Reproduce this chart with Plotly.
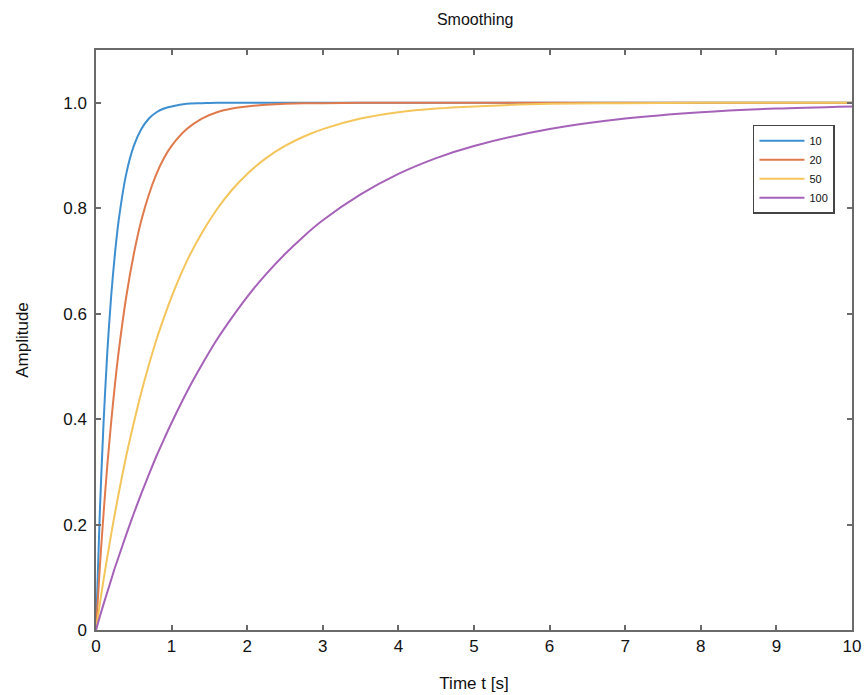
import plotly.graph_objects as go

# Time samples (s) and amplitudes
t = [0, 0.05, 0.1, 0.15, 0.2, 0.25, 0.3, 0.4, 0.5, 0.6, 0.7, 0.8, 0.9, 1.0,
     1.2, 1.4, 1.6, 1.8, 2.0, 2.25, 2.5, 2.75, 3.0, 3.5, 4.0, 4.5, 5.0, 6.0, 7.0,
     8.0, 9.0, 10.0]

y10 = [0, 0.221, 0.393, 0.528, 0.632, 0.713, 0.777, 0.865, 0.918, 0.950, 0.970,
       0.982, 0.989, 0.993, 0.998, 0.999, 1.0, 1.0, 1.0, 1.0, 1.0, 1.0, 1.0, 1.0,
       1.0, 1.0, 1.0, 1.0, 1.0, 1.0, 1.0, 1.0]
y20 = [0, 0.118, 0.221, 0.313, 0.393, 0.465, 0.528, 0.632, 0.713, 0.777, 0.826,
       0.865, 0.895, 0.918, 0.950, 0.970, 0.982, 0.989, 0.993, 0.996, 0.998, 0.999,
       0.999, 1.0, 1.0, 1.0, 1.0, 1.0, 1.0, 1.0, 1.0, 1.0]
y50 = [0, 0.049, 0.095, 0.139, 0.181, 0.221, 0.259, 0.330, 0.393, 0.451, 0.503,
       0.551, 0.593, 0.632, 0.699, 0.753, 0.798, 0.835, 0.865, 0.895, 0.918, 0.936,
       0.950, 0.970, 0.982, 0.989, 0.993, 0.998, 0.999, 1.0, 1.0, 1.0]
y100 = [0, 0.025, 0.049, 0.072, 0.095, 0.118, 0.139, 0.181, 0.221, 0.259, 0.295,
        0.330, 0.362, 0.393, 0.451, 0.503, 0.551, 0.593, 0.632, 0.675, 0.713, 0.747,
        0.777, 0.826, 0.865, 0.895, 0.918, 0.950, 0.970, 0.982, 0.989, 0.993]

series_names = ["10", "20", "50", "100"]
series_values = [y10, y20, y50, y100]
colors = ["#3d8fd1", "#e07a4c", "#f4c55a", "#a562b8"]

x_tickvals = list(range(0, 11))
x_ticktext = [str(v) for v in x_tickvals]
y_tickvals = [0, 0.2, 0.4, 0.6, 0.8, 1.0]
y_ticktext = ["0", "0.2", "0.4", "0.6", "0.8", "1.0"]

FONT = "Liberation Sans, Arial, sans-serif"

fig = go.Figure()
for name, vals, c in zip(series_names, series_values, colors):
    fig.add_trace(go.Scatter(x=t, y=vals, name=name, mode="lines",
                             line=dict(color=c, width=2, shape="spline", smoothing=0.8)))

axis_common = dict(showline=True, linecolor="#6a6a6a", linewidth=1.5, mirror="ticks",
                   ticks="inside", ticklen=5, tickwidth=1.5, tickcolor="#6a6a6a",
                   showgrid=False, zeroline=False, automargin=False,
                   tickfont=dict(family=FONT, size=17, color="#111"))

fig.update_xaxes(range=[0, 10], tickvals=x_tickvals, ticktext=x_ticktext,
                 title=dict(text="Time t [s]", standoff=22,
                            font=dict(family=FONT, size=17, color="#111")),
                 **axis_common)
fig.update_yaxes(range=[0, 1.1], tickvals=y_tickvals, ticktext=y_ticktext,
                 ticklabelstandoff=4,
                 title=dict(text="Amplitude", standoff=30,
                            font=dict(family=FONT, size=17, color="#111")),
                 **axis_common)

fig.update_layout(
    width=864, height=695,
    margin=dict(l=96, r=12, t=50, b=65),
    paper_bgcolor="white", plot_bgcolor="white",
    title=dict(text="Smoothing", x=0.55, xanchor="center", y=0.972, yanchor="middle",
               font=dict(family=FONT, size=16, color="#111")),
    legend=dict(x=0.869, y=0.871, xanchor="left", yanchor="top",
                bgcolor="white", bordercolor="#444", borderwidth=1.5,
                font=dict(family=FONT, size=11, color="#111"),
                tracegroupgap=0, itemwidth=45),
    showlegend=True,
)

fig.write_html("out.html", config={"displayModeBar": False},
               post_script="document.body.style.margin='0';")
